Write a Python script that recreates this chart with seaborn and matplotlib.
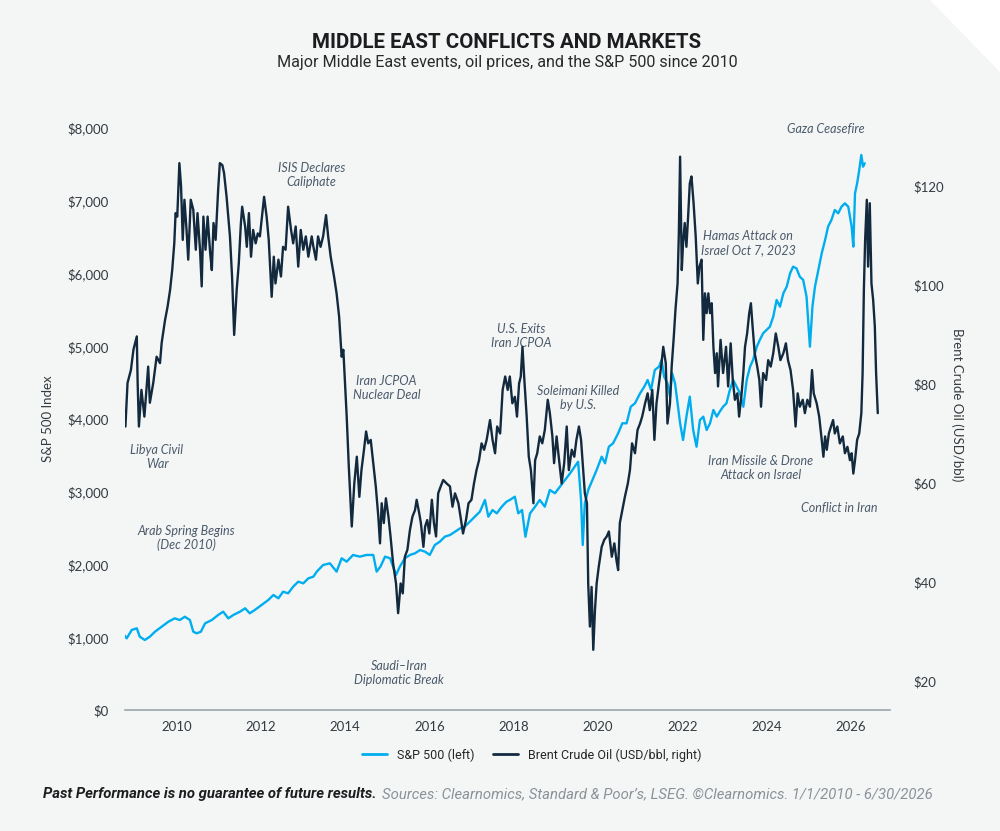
import matplotlib
matplotlib.use("Agg")
import matplotlib.pyplot as plt
from matplotlib.lines import Line2D
from matplotlib.patches import Polygon
from matplotlib.ticker import FuncFormatter
import pandas as pd
import seaborn as sns

# --- values (x is in the chart's own year scale) ---
spx_years = [
    2008.70, 2008.82, 2008.94, 2009.06, 2009.13, 2009.25, 2009.37, 2009.49, 2009.65, 2009.81,
    2009.96, 2010.08, 2010.20, 2010.32, 2010.40, 2010.48, 2010.58, 2010.68, 2010.84, 2010.99,
    2011.11, 2011.23, 2011.35, 2011.51, 2011.63, 2011.74, 2011.86, 2012.02, 2012.18, 2012.30,
    2012.42, 2012.53, 2012.65, 2012.77, 2012.89, 2013.01, 2013.13, 2013.25, 2013.33, 2013.48,
    2013.64, 2013.80, 2013.92, 2014.04, 2014.19, 2014.35, 2014.51, 2014.67, 2014.75, 2014.84,
    2014.95, 2015.07, 2015.21, 2015.30, 2015.42, 2015.54, 2015.66, 2015.78, 2015.90, 2016.01,
    2016.13, 2016.25, 2016.37, 2016.49, 2016.61, 2016.73, 2016.84, 2016.96, 2017.08, 2017.20,
    2017.32, 2017.40, 2017.50, 2017.60, 2017.72, 2017.83, 2017.91, 2018.03, 2018.11, 2018.20,
    2018.28, 2018.39, 2018.51, 2018.62, 2018.74, 2018.86, 2018.98, 2019.10, 2019.22, 2019.34,
    2019.45, 2019.53, 2019.60, 2019.64, 2019.69, 2019.77, 2019.87, 2019.97, 2020.09, 2020.17,
    2020.26, 2020.36, 2020.48, 2020.58, 2020.68, 2020.78, 2020.88, 2021.00, 2021.10, 2021.18,
    2021.26, 2021.35, 2021.45, 2021.51, 2021.57, 2021.65, 2021.71, 2021.76, 2021.83, 2021.89,
    2021.95, 2022.02, 2022.10, 2022.18, 2022.26, 2022.34, 2022.42, 2022.50, 2022.58, 2022.66,
    2022.74, 2022.82, 2022.89, 2022.97, 2023.05, 2023.13, 2023.21, 2023.29, 2023.37, 2023.45,
    2023.53, 2023.61, 2023.68, 2023.77, 2023.84, 2023.92, 2024.00, 2024.08, 2024.16, 2024.24,
    2024.32, 2024.40, 2024.48, 2024.56, 2024.63, 2024.71, 2024.79, 2024.87, 2024.95, 2025.03,
    2025.09, 2025.15, 2025.23, 2025.31, 2025.39, 2025.46, 2025.54, 2025.62, 2025.70, 2025.78,
    2025.86, 2025.94, 2026.02, 2026.06, 2026.10, 2026.15, 2026.20, 2026.25, 2026.29, 2026.33,
]
spx_values = [
    1076, 985, 1100, 1123, 1008, 962, 1008, 1076, 1145, 1214,
    1260, 1237, 1282, 1237, 1076, 1054, 1076, 1192, 1237, 1306,
    1352, 1260, 1306, 1352, 1398, 1329, 1375, 1443, 1512, 1581,
    1535, 1626, 1604, 1695, 1764, 1741, 1810, 1833, 1902, 1993,
    2016, 1902, 2085, 2039, 2131, 2108, 2131, 2131, 1902, 1970,
    2108, 2085, 1856, 1970, 2085, 2131, 2154, 2199, 2176, 2131,
    2268, 2314, 2383, 2405, 2451, 2497, 2520, 2588, 2657, 2726,
    2887, 2657, 2749, 2703, 2795, 2863, 2887, 2932, 2703, 2749,
    2382, 2703, 2795, 2887, 2795, 3024, 2979, 3070, 3162, 3253,
    3345, 3413, 2887, 2268, 2841, 3024, 3162, 3299, 3482, 3391,
    3619, 3666, 3803, 3941, 3941, 4169, 4216, 4353, 4444, 4536,
    4399, 4674, 4719, 4811, 4582, 4490, 4307, 4628, 4490, 4216,
    3941, 3711, 4032, 4307, 3849, 3619, 3986, 4032, 3849, 3941,
    4124, 4032, 4101, 4169, 4216, 4399, 4536, 4444, 4353, 4169,
    4536, 4719, 4811, 4994, 5086, 5178, 5223, 5269, 5406, 5636,
    5544, 5728, 5819, 6003, 6094, 6071, 5956, 5911, 5681, 4994,
    5544, 5819, 6048, 6277, 6460, 6643, 6735, 6873, 6827, 6918,
    6964, 6918, 6643, 6369, 7102, 7239, 7422, 7629, 7468, 7514,
]

oil_years = [
    2008.70, 2008.71, 2008.79, 2008.84, 2008.92, 2008.98, 2009.06, 2009.08, 2009.11, 2009.17,
    2009.24, 2009.33, 2009.37, 2009.45, 2009.53, 2009.61, 2009.65, 2009.73, 2009.79, 2009.85,
    2009.90, 2009.95, 2009.98, 2010.02, 2010.07, 2010.11, 2010.15, 2010.19, 2010.24, 2010.28,
    2010.34, 2010.40, 2010.46, 2010.50, 2010.56, 2010.60, 2010.64, 2010.69, 2010.74, 2010.80,
    2010.84, 2010.88, 2010.93, 2010.99, 2011.03, 2011.09, 2011.13, 2011.19, 2011.27, 2011.32,
    2011.37, 2011.43, 2011.48, 2011.53, 2011.56, 2011.63, 2011.67, 2011.72, 2011.77, 2011.82,
    2011.88, 2011.93, 2011.98, 2012.08, 2012.14, 2012.19, 2012.26, 2012.31, 2012.35, 2012.42,
    2012.48, 2012.53, 2012.59, 2012.65, 2012.72, 2012.77, 2012.83, 2012.89, 2012.95, 2013.01,
    2013.07, 2013.13, 2013.21, 2013.25, 2013.31, 2013.36, 2013.42, 2013.48, 2013.55, 2013.60,
    2013.66, 2013.74, 2013.80, 2013.86, 2013.92, 2013.96, 2014.00, 2014.04, 2014.09, 2014.16,
    2014.22, 2014.28, 2014.34, 2014.39, 2014.45, 2014.50, 2014.55, 2014.61, 2014.67, 2014.73,
    2014.79, 2014.83, 2014.87, 2014.92, 2014.97, 2015.03, 2015.08, 2015.14, 2015.21, 2015.26,
    2015.32, 2015.37, 2015.42, 2015.48, 2015.54, 2015.60, 2015.66, 2015.70, 2015.76, 2015.80,
    2015.86, 2015.90, 2015.95, 2016.00, 2016.06, 2016.11, 2016.16, 2016.21, 2016.27, 2016.33,
    2016.41, 2016.49, 2016.55, 2016.61, 2016.69, 2016.74, 2016.80, 2016.87, 2016.93, 2017.00,
    2017.06, 2017.12, 2017.18, 2017.24, 2017.30, 2017.36, 2017.44, 2017.50, 2017.56, 2017.61,
    2017.68, 2017.74, 2017.80, 2017.86, 2017.91, 2017.97, 2018.03, 2018.08, 2018.13, 2018.17,
    2018.21, 2018.25, 2018.31, 2018.36, 2018.41, 2018.47, 2018.51, 2018.56, 2018.62, 2018.68,
    2018.74, 2018.81, 2018.86, 2018.92, 2018.96, 2019.02, 2019.07, 2019.14, 2019.20, 2019.26,
    2019.31, 2019.38, 2019.44, 2019.49, 2019.55, 2019.60, 2019.65, 2019.69, 2019.74, 2019.77,
    2019.81, 2019.85, 2019.89, 2019.93, 2019.97, 2020.02, 2020.09, 2020.15, 2020.21, 2020.26,
    2020.33, 2020.39, 2020.44, 2020.48, 2020.52, 2020.58, 2020.64, 2020.71, 2020.76, 2020.81,
    2020.88, 2020.94, 2021.00, 2021.05, 2021.12, 2021.18, 2021.23, 2021.29, 2021.34, 2021.39,
    2021.45, 2021.51, 2021.55, 2021.61, 2021.65, 2021.71, 2021.75, 2021.80, 2021.84, 2021.89,
    2021.92, 2021.95, 2021.99, 2022.02, 2022.06, 2022.10, 2022.14, 2022.18, 2022.22, 2022.27,
    2022.32, 2022.37, 2022.41, 2022.46, 2022.50, 2022.54, 2022.58, 2022.62, 2022.66, 2022.70,
    2022.74, 2022.78, 2022.82, 2022.85, 2022.91, 2022.97, 2023.04, 2023.09, 2023.15, 2023.20,
    2023.25, 2023.31, 2023.35, 2023.41, 2023.45, 2023.49, 2023.54, 2023.59, 2023.63, 2023.67,
    2023.72, 2023.78, 2023.83, 2023.87, 2023.92, 2023.99, 2024.04, 2024.10, 2024.16, 2024.22,
    2024.28, 2024.33, 2024.40, 2024.46, 2024.51, 2024.57, 2024.63, 2024.69, 2024.74, 2024.79,
    2024.86, 2024.91, 2024.97, 2025.03, 2025.08, 2025.12, 2025.19, 2025.25, 2025.31, 2025.35,
    2025.39, 2025.43, 2025.48, 2025.53, 2025.58, 2025.62, 2025.68, 2025.74, 2025.81, 2025.86,
    2025.92, 2025.98, 2026.02, 2026.06, 2026.10, 2026.15, 2026.20, 2026.25, 2026.28, 2026.31,
    2026.34, 2026.38, 2026.41, 2026.45, 2026.49, 2026.53, 2026.57, 2026.60, 2026.64,
]
oil_values = [
    82.8, 78.8, 71.4, 80.2, 82.8, 86.9, 89.6, 80.2, 71.4, 78.8,
    73.4, 83.5, 76.2, 80.2, 85.5, 84.2, 88.3, 92.9, 95.6, 99.0,
    103.0, 108.5, 114.5, 113.8, 124.6, 119.9, 109.1, 117.2, 111.1, 105.1,
    117.2, 115.2, 107.1, 114.5, 107.1, 99.7, 113.8, 107.1, 113.8, 106.5,
    103.0, 112.5, 109.1, 119.2, 124.6, 124.2, 122.6, 117.8, 109.8, 101.7,
    89.9, 99.0, 104.4, 112.5, 115.8, 111.8, 107.7, 114.5, 105.7, 111.1,
    108.4, 110.4, 109.8, 117.8, 113.8, 109.1, 97.6, 105.7, 100.3, 105.1,
    101.7, 107.7, 107.1, 115.8, 111.1, 108.4, 111.8, 103.7, 111.1, 107.1,
    109.8, 105.7, 109.8, 107.7, 105.1, 109.8, 107.7, 109.8, 114.1, 109.8,
    105.7, 101.7, 98.3, 93.6, 85.5, 86.9, 80.1, 73.4, 63.3, 51.2,
    59.9, 65.3, 57.2, 62.6, 66.7, 70.4, 68.0, 68.7, 64.0, 59.3,
    53.2, 47.8, 55.9, 51.9, 56.9, 53.2, 49.2, 43.8, 39.7, 33.7,
    39.7, 37.7, 45.1, 46.5, 50.5, 53.2, 54.5, 56.6, 53.9, 51.9,
    47.1, 51.2, 52.5, 49.8, 56.6, 51.9, 49.2, 57.9, 59.3, 60.6,
    59.9, 59.3, 55.2, 57.9, 55.9, 53.2, 49.8, 52.5, 55.9, 56.6,
    59.9, 62.6, 64.6, 68.0, 66.7, 68.7, 72.7, 68.7, 66.0, 71.4,
    70.0, 78.8, 81.5, 78.8, 81.5, 76.1, 77.4, 73.4, 80.1, 81.5,
    87.5, 81.5, 73.4, 65.3, 62.6, 55.9, 64.6, 66.0, 69.4, 68.0,
    70.7, 76.8, 74.1, 69.4, 64.0, 69.4, 65.3, 59.9, 64.0, 71.4,
    62.6, 66.7, 65.3, 68.7, 71.4, 68.7, 62.6, 57.9, 55.9, 39.7,
    31.0, 39.0, 26.3, 34.3, 39.7, 43.1, 47.1, 48.5, 49.2, 50.2,
    45.1, 47.8, 44.4, 42.4, 51.9, 54.5, 57.2, 59.9, 62.6, 68.0,
    66.0, 70.7, 72.0, 73.4, 76.1, 78.1, 74.7, 78.8, 68.7, 76.1,
    80.1, 84.2, 87.5, 84.2, 72.0, 76.1, 83.5, 89.5, 95.0, 100.3,
    110.4, 125.9, 103.0, 108.4, 112.5, 107.7, 113.8, 120.5, 121.9, 116.5,
    109.8, 100.3, 103.7, 105.1, 88.9, 98.3, 94.3, 98.3, 94.3, 96.3,
    87.5, 82.2, 86.2, 79.5, 88.9, 82.2, 87.5, 79.5, 88.2, 80.8,
    76.8, 78.1, 73.4, 78.1, 82.2, 87.5, 90.2, 94.3, 96.3, 91.6,
    86.2, 83.5, 80.8, 75.4, 82.2, 80.8, 84.8, 83.5, 86.2, 90.2,
    87.5, 84.8, 86.2, 88.2, 84.8, 82.8, 78.8, 71.4, 78.1, 75.4,
    76.8, 74.1, 76.8, 75.4, 82.8, 78.1, 76.1, 73.4, 68.7, 65.3,
    69.4, 66.7, 70.0, 71.4, 72.7, 70.0, 71.4, 68.0, 69.4, 66.0,
    67.3, 64.6, 66.0, 61.9, 64.6, 68.7, 70.0, 74.1, 82.2, 99.0,
    109.1, 117.2, 103.7, 116.5, 100.3, 97.0, 91.6, 82.2, 74.1,
]

year_ticks = [2010, 2012, 2014, 2016, 2018, 2020, 2022, 2024, 2026]
spx_ticks = [0, 1000, 2000, 3000, 4000, 5000, 6000, 7000, 8000]
oil_ticks = [20, 40, 60, 80, 100, 120]

event_labels = [
    "ISIS Declares\nCaliphate", "Libya Civil\nWar", "Arab Spring Begins\n(Dec 2010)",
    "Iran JCPOA\nNuclear Deal", "Saudi\u2013Iran\nDiplomatic Break", "U.S. Exits\nIran JCPOA",
    "Soleimani Killed\nby U.S.", "Gaza Ceasefire", "Hamas Attack on\nIsrael Oct 7, 2023",
    "Iran Missile & Drone\nAttack on Israel", "Conflict in Iran",
]
event_years = [2013.21, 2009.54, 2010.23, 2014.99, 2015.28, 2018.17,
               2019.52, 2025.41, 2023.56, 2023.87, 2025.72]
event_levels = [7354, 3478, 2364, 4426, 509, 5141, 4289, 7986, 6419, 3326, 2777]

BG = "#f4f6f6"
BLUE = "#00aeef"
NAVY = "#132a3e"
NOTE = "#4b5a6a"
TICK = "#333a40"
CONDENSED = ["Roboto", "DejaVu Sans"]

sns.set_theme(style="white")
plt.rcParams["font.family"] = ["Lato", "DejaVu Sans"]

spx_df = pd.DataFrame({"year": spx_years, "value": spx_values})
oil_df = pd.DataFrame({"year": oil_years, "value": oil_values})

fig = plt.figure(figsize=(10, 8.31), dpi=100, facecolor=BG)
ax = fig.add_axes([0.125, 0.1456, 0.765, 0.7004])
ax.set_facecolor(BG)
ax2 = ax.twinx()

sns.lineplot(data=spx_df, x="year", y="value", ax=ax, color=BLUE, lw=1.7,
             estimator=None, sort=False)
sns.lineplot(data=oil_df, x="year", y="value", ax=ax2, color=NAVY, lw=1.7,
             estimator=None, sort=False)

ax.set_xlim(2008.78, 2026.93)
ax.set_ylim(0, 8000)
ax2.set_ylim(14.14, 131.7)

ax.set_xticks(year_ticks)
ax.set_yticks(spx_ticks)
ax2.set_yticks(oil_ticks)
ax.yaxis.set_major_formatter(FuncFormatter(lambda v, p: f"${v:,.0f}"))
ax2.yaxis.set_major_formatter(FuncFormatter(lambda v, p: f"${v:,.0f}"))

ax.set_xlabel("")
ax.set_ylabel("")
ax2.set_ylabel("")
ax.tick_params(axis="y", length=0, pad=12, labelsize=9.5, labelcolor=TICK)
ax.tick_params(axis="x", length=0, pad=8, labelsize=9.5, labelcolor=TICK)
ax2.tick_params(axis="y", length=0, pad=17, labelsize=9.5, labelcolor=TICK)

for a in (ax, ax2):
    for side in ("top", "left", "right", "bottom"):
        a.spines[side].set_visible(False)
ax.spines["bottom"].set_visible(True)
ax.spines["bottom"].set_color("#9aa6af")
ax.spines["bottom"].set_linewidth(1.2)

for label, yr, lvl in zip(event_labels, event_years, event_levels):
    ax.text(yr, lvl, label, ha="center", va="center", fontsize=9,
            style="italic", color=NOTE, linespacing=1.2, zorder=5)

fig.text(0.048, 1 - 419 / 831, "S&P 500 Index", rotation=90, ha="center",
         va="center", fontsize=9.5, color=TICK)
fig.text(0.957, 1 - 405 / 831, "Brent Crude Oil (USD/bbl)", rotation=270,
         ha="center", va="center", fontsize=9.5, color=TICK)

fig.text(0.507, 1 - 43 / 831, "MIDDLE EAST CONFLICTS AND MARKETS", ha="center",
         va="center", fontsize=14.8, weight="bold", color="#1d1d1f", family=CONDENSED)
fig.text(0.507, 1 - 62 / 831, "Major Middle East events, oil prices, and the S&P 500 since 2010",
         ha="center", va="center", fontsize=11.6, color="#2a2a2a", family=CONDENSED)

handles = [Line2D([], [], color=BLUE, lw=2), Line2D([], [], color=NAVY, lw=2)]
fig.legend(handles, ["S&P 500 (left)", "Brent Crude Oil (USD/bbl, right)"],
           loc="center", bbox_to_anchor=(0.532, 1 - 755 / 831), ncol=2,
           frameon=False, handlelength=2.0, columnspacing=1.5,
           prop={"family": CONDENSED, "size": 9})

# footer: bold disclaimer followed by grey source line
disc = fig.text(0.043, 1 - 794 / 831, "Past Performance is no guarantee of future results.",
                ha="left", va="center", fontsize=10.7, weight="bold", style="italic",
                color="#1d1d1f", family=CONDENSED)
fig.canvas.draw()
bb = disc.get_window_extent(renderer=fig.canvas.get_renderer())
x_next = (bb.x1 + 5) / fig.bbox.width
fig.text(x_next, 1 - 794 / 831,
         "Sources: Clearnomics, Standard & Poor\u2019s, LSEG. \u00a9Clearnomics. 1/1/2010 - 6/30/2026",
         ha="left", va="center", fontsize=10.7, style="italic", color="#8a9198",
         family=CONDENSED)

# folded corner at the top right
fig.patches.append(Polygon([(0.93, 1.0), (1.0, 1.0), (1.0, 1 - 72 / 831)], closed=True,
                           transform=fig.transFigure, facecolor="white",
                           edgecolor="none", zorder=0))

fig.savefig("out.png", dpi=100, facecolor=BG)
plt.close(fig)
